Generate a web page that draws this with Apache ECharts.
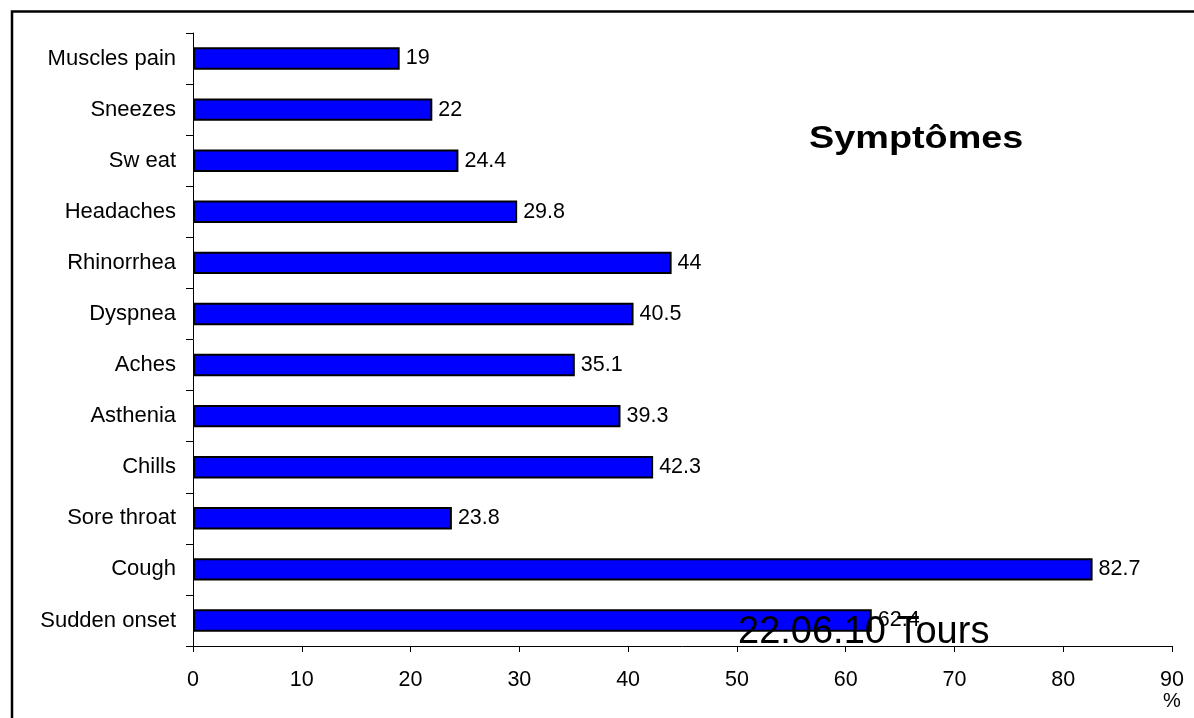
<!DOCTYPE html>
<html>
<head>
<meta charset="utf-8">
<script src="https://cdn.jsdelivr.net/npm/echarts@6/dist/echarts.min.js"></script>
<style>
  html, body { margin: 0; padding: 0; background: #fff; }
  #chart { width: 1194px; height: 718px; }
</style>
</head>
<body>
<div id="chart"></div>
<script>
// Symptoms, listed bottom-up as they appear on the category axis
const categories = [
  'Sudden onset', 'Cough', 'Sore throat', 'Chills', 'Asthenia', 'Aches',
  'Dyspnea', 'Rhinorrhea', 'Headaches', 'Sw eat', 'Sneezes', 'Muscles pain'
];
// Share of patients with each symptom (%)
const percentages = [62.4, 82.7, 23.8, 42.3, 39.3, 35.1, 40.5, 44, 29.8, 24.4, 22, 19];
// Value axis range and step
const xMin = 0, xMax = 90, xStep = 10;

const FONT = '"Liberation Sans", Arial, sans-serif';
const SIZE = 21.5;

const chart = echarts.init(document.getElementById('chart'), null, { renderer: 'canvas' });

chart.setOption({
  backgroundColor: '#ffffff',
  animation: false,
  grid: { left: 193, right: 22, top: 33, bottom: 72, containLabel: false },
  xAxis: {
    type: 'value',
    min: xMin, max: xMax, interval: xStep,
    splitLine: { show: false },
    axisLine: { show: true, lineStyle: { color: '#000', width: 1 } },
    axisTick: { show: true, length: 6, lineStyle: { color: '#000' } },
    axisLabel: { color: '#000', fontSize: SIZE, fontFamily: FONT, margin: 23 }
  },
  yAxis: {
    type: 'category',
    data: categories,
    axisLine: { show: true, lineStyle: { color: '#000', width: 1 } },
    axisTick: { show: true, length: 7, alignWithLabel: false, lineStyle: { color: '#000' } },
    axisLabel: { color: '#000', fontSize: 22, fontFamily: FONT, margin: 17 },
    splitLine: { show: false }
  },
  series: [{
    type: 'bar',
    data: percentages,
    barWidth: '44%',
    itemStyle: { color: '#0000ff', borderColor: '#000', borderWidth: 2 },
    label: {
      show: true, position: 'right', distance: 6,
      color: '#000', fontSize: SIZE, fontFamily: FONT
    }
  }],
  graphic: [
    // frame around the figure (open on the right and bottom)
    {
      type: 'rect', z: 100,
      shape: { x: 12, y: 11.5, width: 1400, height: 900 },
      style: { fill: 'none', stroke: '#000', lineWidth: 2.5 }
    },
    {
      type: 'text', left: 809, top: 124, z: 100, scaleX: 1.22,
      style: { text: 'Symptômes', font: 'bold 31px ' + FONT, fill: '#000' }
    },
    {
      type: 'text', left: 1163, top: 691, z: 100,
      style: { text: '%', font: '20px ' + FONT, fill: '#000' }
    },
    {
      type: 'text', left: 738, top: 614, z: 100,
      style: { text: '22.06.10 Tours', font: '38px ' + FONT, fill: '#000' }
    }
  ]
});
</script>
</body>
</html>
